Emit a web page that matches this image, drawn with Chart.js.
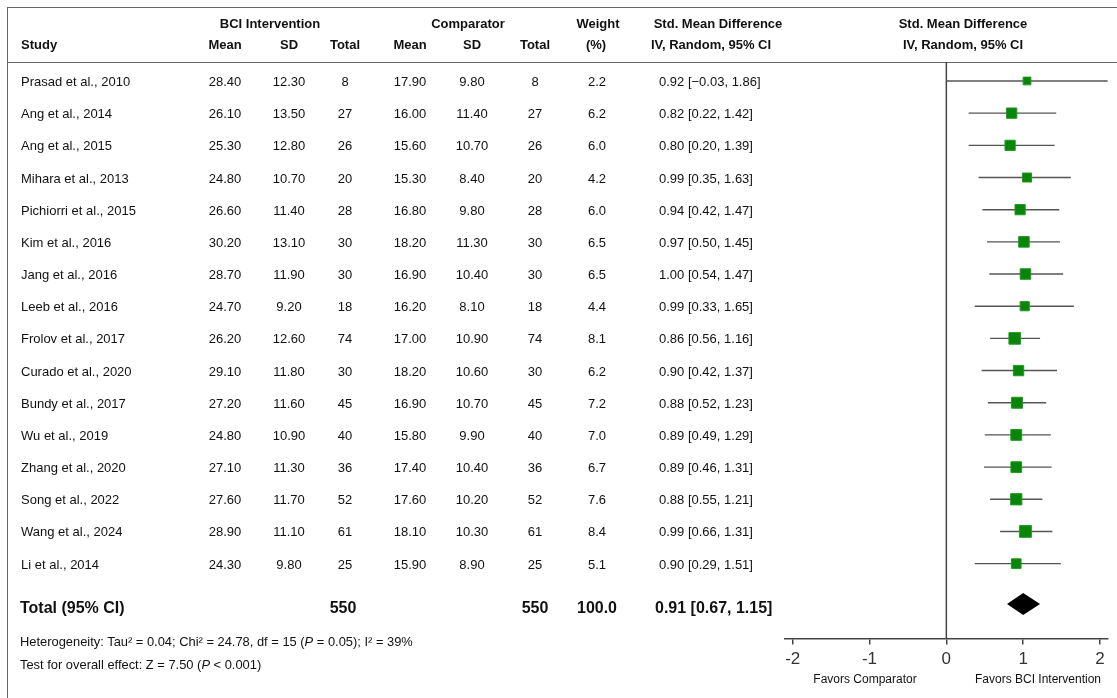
<!DOCTYPE html>
<html>
<head>
<meta charset="utf-8">
<script src="https://cdn.jsdelivr.net/npm/chart.js@4.4.0/dist/chart.umd.min.js"></script>
<style>
body { margin: 0; background: #fff; }
#wrap { position: relative; width: 1117px; height: 698px; overflow: hidden; font-family: "Liberation Sans", Arial, sans-serif; color: #111; }
#c { position: absolute; left: 0; top: 0; }
.t { position: absolute; white-space: nowrap; font-size: 13px; line-height: 16px; transform: translateY(-50%); }
.c { transform: translate(-50%, -50%); }
.b { font-weight: bold; }
.frame { position: absolute; left: 7px; top: 7px; width: 1200px; height: 800px; border: 1.5px solid #666; }
.hline { position: absolute; left: 7px; top: 62px; width: 1110px; height: 0; border-top: 1.5px solid #666; }
</style>
</head>
<body>
<div id="wrap">
  <div class="frame"></div>
  <div class="hline"></div>
  <canvas id="c" width="1117" height="698"></canvas>
</div>
<script>
// table data
var studies = ['Prasad et al., 2010', 'Ang et al., 2014', 'Ang et al., 2015', 'Mihara et al., 2013',
  'Pichiorri et al., 2015', 'Kim et al., 2016', 'Jang et al., 2016', 'Leeb et al., 2016',
  'Frolov et al., 2017', 'Curado et al., 2020', 'Bundy et al., 2017', 'Wu et al., 2019',
  'Zhang et al., 2020', 'Song et al., 2022', 'Wang et al., 2024', 'Li et al., 2014'];
var bciMean = ['28.40','26.10','25.30','24.80','26.60','30.20','28.70','24.70','26.20','29.10','27.20','24.80','27.10','27.60','28.90','24.30'];
var bciSD   = ['12.30','13.50','12.80','10.70','11.40','13.10','11.90','9.20','12.60','11.80','11.60','10.90','11.30','11.70','11.10','9.80'];
var bciN    = [8, 27, 26, 20, 28, 30, 30, 18, 74, 30, 45, 40, 36, 52, 61, 25];
var compMean = ['17.90','16.00','15.60','15.30','16.80','18.20','16.90','16.20','17.00','18.20','16.90','15.80','17.40','17.60','18.10','15.90'];
var compSD   = ['9.80','11.40','10.70','8.40','9.80','11.30','10.40','8.10','10.90','10.60','10.70','9.90','10.40','10.20','10.30','8.90'];
var compN    = [8, 27, 26, 20, 28, 30, 30, 18, 74, 30, 45, 40, 36, 52, 61, 25];
var weights  = [2.2, 6.2, 6.0, 4.2, 6.0, 6.5, 6.5, 4.4, 8.1, 6.2, 7.2, 7.0, 6.7, 7.6, 8.4, 5.1];
var ciText = ['0.92 [\u22120.03, 1.86]','0.82 [0.22, 1.42]','0.80 [0.20, 1.39]','0.99 [0.35, 1.63]',
  '0.94 [0.42, 1.47]','0.97 [0.50, 1.45]','1.00 [0.54, 1.47]','0.99 [0.33, 1.65]',
  '0.86 [0.56, 1.16]','0.90 [0.42, 1.37]','0.88 [0.52, 1.23]','0.89 [0.49, 1.29]',
  '0.89 [0.46, 1.31]','0.88 [0.55, 1.21]','0.99 [0.66, 1.31]','0.90 [0.29, 1.51]'];

// plotted marks, as drawn in the figure
var est = [1.05, 0.85, 0.83, 1.05, 0.96, 1.01, 1.03, 1.02, 0.89, 0.94, 0.92, 0.91, 0.91, 0.91, 1.03, 0.91];
var lo  = [0.00, 0.29, 0.29, 0.42, 0.47, 0.53, 0.56, 0.37, 0.57, 0.46, 0.54, 0.50, 0.49, 0.57, 0.70, 0.37];
var hi  = [2.10, 1.43, 1.41, 1.62, 1.47, 1.48, 1.52, 1.66, 1.22, 1.44, 1.30, 1.36, 1.37, 1.25, 1.38, 1.49];
var pooled = [0.79, 1.00, 1.22]; // diamond lo, mid, hi
var xTicks = [-2, -1, 0, 1, 2];

var totalRow = studies.length + 0.35;
var green = '#0a840a';

var forestPlugin = {
  id: 'forest',
  beforeDatasetsDraw: function(chart) {
    var ctx = chart.ctx, xs = chart.scales.x, ys = chart.scales.y, a = chart.chartArea;
    ctx.save();
    // line of no effect
    ctx.strokeStyle = '#444';
    ctx.lineWidth = 1.5;
    ctx.beginPath();
    ctx.moveTo(xs.getPixelForValue(0), a.top);
    ctx.lineTo(xs.getPixelForValue(0), a.bottom);
    ctx.stroke();
    // CI whiskers
    ctx.strokeStyle = '#555';
    ctx.lineWidth = 1.4;
    for (var i = 0; i < studies.length; i++) {
      var yy = ys.getPixelForValue(i);
      ctx.beginPath();
      ctx.moveTo(xs.getPixelForValue(lo[i]), yy);
      ctx.lineTo(xs.getPixelForValue(hi[i]), yy);
      ctx.stroke();
    }
    // pooled diamond
    var yt = ys.getPixelForValue(totalRow) - 3;
    ctx.fillStyle = '#000';
    ctx.beginPath();
    ctx.moveTo(xs.getPixelForValue(pooled[0]), yt);
    ctx.lineTo(xs.getPixelForValue(pooled[1]), yt - 11);
    ctx.lineTo(xs.getPixelForValue(pooled[2]), yt);
    ctx.lineTo(xs.getPixelForValue(pooled[1]), yt + 11);
    ctx.closePath();
    ctx.fill();
    ctx.restore();
  }
};

var chart = new Chart(document.getElementById('c'), {
  type: 'scatter',
  data: {
    datasets: [{
      data: est.map(function(v, i) { return { x: v, y: i }; }),
      pointStyle: 'rect',
      pointRadius: weights.map(function(w) { return (6.3 + 0.65 * w) / 1.414; }),
      backgroundColor: green,
      borderColor: '#1f9a1f',
      borderWidth: 1
    }]
  },
  options: {
    responsive: false,
    animation: false,
    layout: { padding: { left: 785, right: 5, top: 62, bottom: 23 } },
    plugins: { legend: { display: false }, tooltip: { enabled: false } },
    scales: {
      x: {
        type: 'linear', min: -2.1, max: 2.1,
        afterBuildTicks: function(s) { s.ticks = xTicks.map(function(v) { return { value: v }; }); },
        grid: { drawOnChartArea: false, drawTicks: true, tickLength: 6, color: '#444', lineWidth: 1.5 },
        border: { display: true, color: '#444', width: 1.5 },
        ticks: { color: '#333', padding: 5, font: { size: 17, family: '"Liberation Sans", Arial, sans-serif' } }
      },
      y: { type: 'linear', reverse: true, min: -0.59, max: 17.33, display: false }
    }
  },
  plugins: [forestPlugin]
});

// table text, rows placed with the chart's y scale
var wrap = document.getElementById('wrap');
function put(html, x, y, cls) {
  var d = document.createElement('div');
  d.className = 't ' + (cls || '');
  d.innerHTML = html;
  d.style.left = x + 'px';
  d.style.top = y + 'px';
  wrap.appendChild(d);
  return d;
}
var col = { mean1: 225, sd1: 289, n1: 345, mean2: 410, sd2: 472, n2: 535, w: 597, ci: 659 };

put('BCI Intervention', 270, 24, 'b c');
put('Comparator', 468, 24, 'b c');
put('Weight', 598, 24, 'b c');
put('Std. Mean Difference', 718, 24, 'b c');
put('Std. Mean Difference', 963, 24, 'b c');
put('Study', 21, 45, 'b');
put('Mean', col.mean1, 45, 'b c');
put('SD', col.sd1, 45, 'b c');
put('Total', col.n1, 45, 'b c');
put('Mean', col.mean2, 45, 'b c');
put('SD', col.sd2, 45, 'b c');
put('Total', col.n2, 45, 'b c');
put('(%)', 596, 45, 'b c');
put('IV, Random, 95% CI', 711, 45, 'b c');
put('IV, Random, 95% CI', 963, 45, 'b c');

var ys = chart.scales.y;
studies.forEach(function(s, i) {
  var y = ys.getPixelForValue(i) + 1;
  put(s, 21, y);
  put(bciMean[i], col.mean1, y, 'c');
  put(bciSD[i], col.sd1, y, 'c');
  put(bciN[i], col.n1, y, 'c');
  put(compMean[i], col.mean2, y, 'c');
  put(compSD[i], col.sd2, y, 'c');
  put(compN[i], col.n2, y, 'c');
  put(weights[i].toFixed(1), col.w, y, 'c');
  put(ciText[i], col.ci, y);
});

var yt = ys.getPixelForValue(totalRow) + 1;
var sumN1 = bciN.reduce(function(a, b) { return a + b; }, 0);
var sumN2 = compN.reduce(function(a, b) { return a + b; }, 0);
put('Total (95% CI)', 20, yt, 'b').style.fontSize = '16px';
put(String(sumN1), col.n1 - 2, yt, 'b c').style.fontSize = '16px';
put(String(sumN2), col.n2, yt, 'b c').style.fontSize = '16px';
put('100.0', col.w, yt, 'b c').style.fontSize = '16px';
put('0.91 [0.67, 1.15]', 655, yt, 'b').style.fontSize = '16px';

put('Heterogeneity: Tau\u00b2 = 0.04; Chi\u00b2 = 24.78, df = 15 (<i>P</i> = 0.05); I\u00b2 = 39%', 20, 642).style.fontSize = '12.9px';
put('Test for overall effect: Z = 7.50 (<i>P</i> &lt; 0.001)', 20, 665).style.fontSize = '12.9px';

put('Favors Comparator', 865, 679, 'c').style.fontSize = '12px';
put('Favors BCI Intervention', 1038, 679, 'c').style.fontSize = '12px';
</script>
</body>
</html>
